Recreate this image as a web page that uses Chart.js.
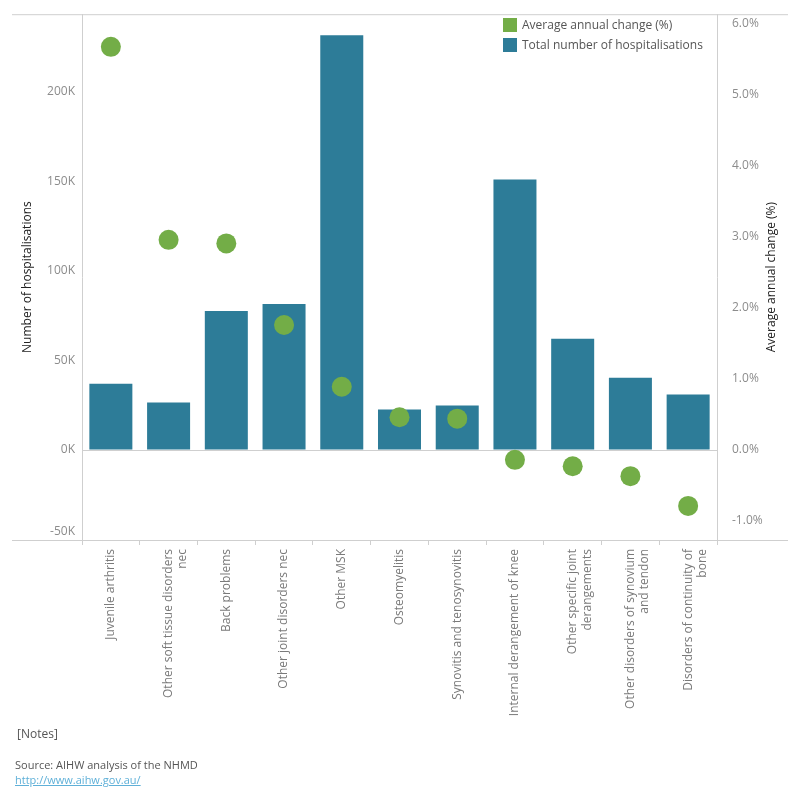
<!DOCTYPE html>
<html>
<head>
<meta charset="utf-8">
<script src="https://cdn.jsdelivr.net/npm/chart.js@4"></script>
<style>
  body { margin: 0; background: #fff; font-family: "Open Sans", sans-serif; }
  #wrap { position: absolute; left: 0; top: 0; width: 800px; height: 800px; }
  .legend { position: absolute; left: 503px; top: 15px; font-size: 12px; color: #555; }
  .legend div { height: 20px; line-height: 20px; }
  .legend span { display: inline-block; width: 14px; height: 14px; vertical-align: -3px; margin-right: 5px; }
  .notes { position: absolute; left: 17px; top: 725px; font-size: 12px; color: #555; }
  .source { position: absolute; left: 15px; top: 757px; font-size: 11px; color: #555; line-height: 15px; }
  .source a { color: #5fb0d8; }
</style>
</head>
<body>
<div id="wrap"><canvas id="chart"></canvas></div>
<div class="legend">
  <div><span style="background:#73ad47"></span>Average annual change (%)</div>
  <div><span style="background:#2d7c98"></span>Total number of hospitalisations</div>
</div>
<div class="notes">[Notes]</div>
<div class="source">Source: AIHW analysis of the NHMD<br><a href="#">http://www.aihw.gov.au/</a></div>
<script>
// categories (multi-line where the original wraps)
const categories = [
  'Juvenile arthritis',
  ['Other soft tissue disorders', 'nec'],
  'Back problems',
  'Other joint disorders nec',
  'Other MSK',
  'Osteomyelitis',
  'Synovitis and tenosynovitis',
  'Internal derangement of knee',
  ['Other specific joint', 'derangements'],
  ['Other disorders of synovium', 'and tendon'],
  ['Disorders of continuity of', 'bone']
];
// total number of hospitalisations
const hospitalisations = [37000, 26500, 77600, 81500, 231500, 22600, 24800, 150900, 62100, 40400, 31000];
// average annual change (%)
const annualChange = [5.67, 2.95, 2.90, 1.75, 0.88, 0.45, 0.43, -0.15, -0.24, -0.38, -0.80];

const leftTicks = [-50000, 0, 50000, 100000, 150000, 200000];
const rightTicks = [-1, 0, 1, 2, 3, 4, 5, 6];

const gridGrey = '#cfcfcf';
const tickGrey = '#8c8c8c';
const fmtK = v => (v / 1000) + 'K';

const framePlugin = {
  id: 'frame',
  afterDraw(chart) {
    const c = chart.ctx, a = chart.chartArea;
    c.save();
    c.strokeStyle = gridGrey;
    c.lineWidth = 1;
    c.beginPath();
    c.moveTo(12, a.top + 0.5); c.lineTo(788, a.top + 0.5);
    c.moveTo(12, a.bottom + 0.5); c.lineTo(788, a.bottom + 0.5);
    c.stroke();
    // bottom-most left tick label sits just inside the frame, like the original
    const ys = chart.scales.y;
    c.font = '12px "Open Sans"';
    c.fillStyle = tickGrey;
    c.textAlign = 'right';
    c.textBaseline = 'middle';
    c.fillText(fmtK(leftTicks[0]), ys.right - 7, ys.getPixelForValue(leftTicks[0]) - 8);
    // right axis title reads bottom to top
    c.translate(772, (a.top + a.bottom) / 2);
    c.rotate(-Math.PI / 2);
    c.fillStyle = '#222';
    c.textAlign = 'center';
    c.fillText('Average annual change (%)', 0, 0);
    c.restore();
  }
};

new Chart(document.getElementById('chart'), {
  type: 'bar',
  data: {
    labels: categories,
    datasets: [
      {
        type: 'line',
        label: 'Average annual change (%)',
        data: annualChange,
        yAxisID: 'y1',
        showLine: false,
        pointRadius: 10,
        pointHoverRadius: 10,
        pointBackgroundColor: '#73ad47',
        pointBorderWidth: 0,
        borderColor: '#73ad47',
        order: 0
      },
      {
        label: 'Total number of hospitalisations',
        data: hospitalisations,
        yAxisID: 'y',
        backgroundColor: '#2d7c98',
        categoryPercentage: 1,
        barPercentage: 0.745,
        order: 1
      }
    ]
  },
  options: {
    responsive: true,
    maintainAspectRatio: false,
    animation: false,
    layout: { padding: { top: 12, left: 0, right: 0, bottom: 0 } },
    plugins: { legend: { display: false }, tooltip: { enabled: false } },
    scales: {
      x: {
        offset: true,
        grid: { display: true, drawOnChartArea: false, offset: true, tickLength: 5, color: gridGrey },
        border: { display: false },
        ticks: {
          autoSkip: false, maxRotation: 90, minRotation: 90, padding: 4,
          color: '#7a7a7a', font: { family: 'Open Sans', size: 12 }
        },
        afterFit(s) { s.height = 260; }
      },
      y: {
        position: 'left',
        min: -50200, max: 243200,
        afterBuildTicks(s) { s.ticks = leftTicks.map(v => ({ value: v })); },
        grid: {
          drawTicks: false,
          color: ctx => (ctx.tick && ctx.tick.value === 0 ? gridGrey : 'rgba(0,0,0,0)')
        },
        border: { display: true, color: gridGrey },
        ticks: {
          padding: 7, color: tickGrey, font: { family: 'Open Sans', size: 12 },
          callback: v => (v === leftTicks[0] ? '' : fmtK(v))
        },
        title: {
          display: true, text: 'Number of hospitalisations', color: '#222',
          font: { family: 'Open Sans', size: 12 }, padding: { top: 20, bottom: 0 }
        },
        afterFit(s) { s.width = 82; }
      },
      y1: {
        position: 'right',
        min: -1.28, max: 6.13,
        afterBuildTicks(s) { s.ticks = rightTicks.map(v => ({ value: v })); },
        grid: { display: false },
        border: { display: true, color: gridGrey },
        ticks: {
          padding: 7, color: tickGrey, font: { family: 'Open Sans', size: 12 },
          callback: v => v.toFixed(1) + '%'
        },
        afterFit(s) { s.width = 83; }
      }
    }
  },
  plugins: [framePlugin]
});
</script>
</body>
</html>
